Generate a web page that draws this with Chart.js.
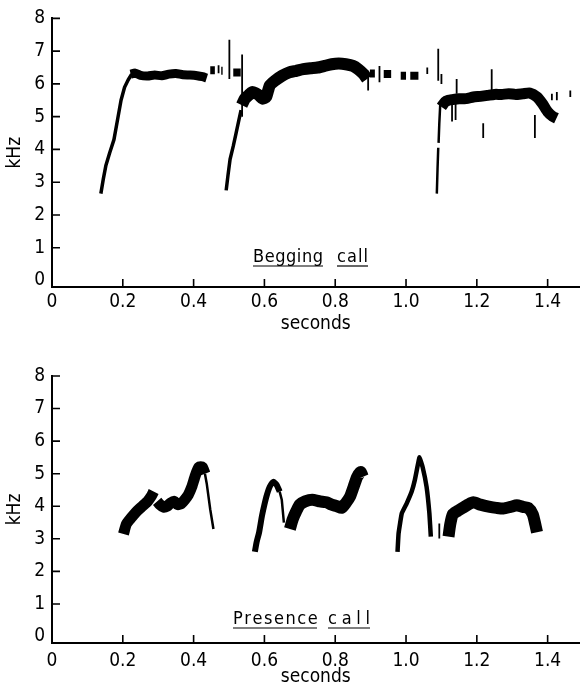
<!DOCTYPE html>
<html>
<head>
<meta charset="utf-8">
<script src="https://cdn.jsdelivr.net/npm/chart.js@4.4.1/dist/chart.umd.min.js"></script>
<style>
html, body { margin: 0; padding: 0; background: #fff; }
#wrap { position: relative; width: 581px; height: 684px; }
canvas { position: absolute; left: 0; }
</style>
</head>
<body>
<div id="wrap">
  <canvas id="begging" width="581" height="342" style="top:0"></canvas>
  <canvas id="presence" width="581" height="342" style="top:342px"></canvas>
</div>
<script>
// tick labels
const xTicks = [0, 0.2, 0.4, 0.6, 0.8, 1.0, 1.2, 1.4];
const yTicks = [0, 1, 2, 3, 4, 5, 6, 7, 8];

// begging call - traces as [seconds, kHz]
const begSweep1 = [[0.138,2.65],[0.145,3.1],[0.152,3.5],[0.163,3.9],[0.175,4.3],[0.185,4.9],[0.195,5.5],[0.205,5.9],[0.215,6.12],[0.225,6.3]];
const begPlateau1 = [[0.222,6.3],[0.235,6.33],[0.25,6.26],[0.27,6.24],[0.29,6.27],[0.31,6.25],[0.33,6.3],[0.35,6.32],[0.37,6.28],[0.39,6.27],[0.41,6.25],[0.425,6.22],[0.437,6.18]];
const begSweep2 = [[0.492,2.75],[0.497,3.2],[0.503,3.7],[0.512,4.1],[0.52,4.5],[0.528,4.9],[0.534,5.2]];
const begBand2 = [[0.536,5.35],[0.545,5.55],[0.555,5.65],[0.565,5.75],[0.575,5.72],[0.585,5.65],[0.595,5.55],[0.605,5.6],[0.615,5.95],[0.63,6.1],[0.65,6.25],[0.67,6.35],[0.69,6.4],[0.71,6.45],[0.73,6.48],[0.75,6.5],[0.77,6.55],[0.79,6.6],[0.81,6.62],[0.83,6.6],[0.85,6.55],[0.865,6.45],[0.88,6.3],[0.89,6.15]];
const begSweep3a = [[1.087,2.65],[1.089,3.4],[1.091,4.05]];
const begSweep3b = [[1.092,4.2],[1.094,4.8],[1.097,5.45]];
const begBand3 = [[1.1,5.3],[1.11,5.45],[1.12,5.5],[1.13,5.52],[1.15,5.55],[1.17,5.55],[1.19,5.6],[1.21,5.62],[1.23,5.65],[1.25,5.68],[1.27,5.68],[1.29,5.7],[1.31,5.68],[1.33,5.7],[1.35,5.72],[1.37,5.6],[1.385,5.4],[1.4,5.15],[1.415,5.0],[1.425,4.95]];
// thin vertical strokes [seconds, kHz from, kHz to]
const begStrokes = [[0.501,6.15,7.35],[0.537,5.0,6.9],[0.893,5.8,6.4],[0.925,6.05,6.55],[1.06,6.3,6.5],[1.091,6.1,7.07],[1.1,6.0,6.3],[1.13,4.85,5.4],[1.14,4.9,5.4],[1.143,5.7,6.15],[1.242,5.8,6.45],[1.218,4.35,4.8],[1.364,4.35,5.05],[1.412,5.5,5.7],[1.426,5.5,5.75],[1.464,5.6,5.8]];
// short blobs [seconds from, seconds to, kHz]
const begBlobs = [[0.447,0.46,6.42],[0.468,0.473,6.45],[0.478,0.482,6.4],[0.512,0.533,6.35],[0.898,0.912,6.32],[0.937,0.958,6.3],[0.985,1.0,6.25],[1.012,1.035,6.25]];

// presence call
const preSeg1 = [[0.202,3.15],[0.21,3.45],[0.22,3.6],[0.23,3.73],[0.24,3.85],[0.25,3.95],[0.26,4.05],[0.27,4.15],[0.28,4.3],[0.287,4.45]];
const preSeg2 = [[0.297,4.15],[0.305,4.05],[0.315,3.97],[0.325,4.0],[0.335,4.1],[0.345,4.15],[0.355,4.05],[0.365,4.08],[0.375,4.2],[0.385,4.35],[0.395,4.6],[0.405,4.95],[0.415,5.2],[0.425,5.2],[0.432,5.0]];
const preTail2 = [[0.432,5.0],[0.437,4.7],[0.447,3.9],[0.456,3.3]];
const preSeg3 = [[0.573,2.6],[0.578,2.9],[0.585,3.2],[0.593,3.7],[0.6,4.05],[0.607,4.35],[0.615,4.6],[0.625,4.75],[0.635,4.65],[0.643,4.45]];
const preTail3 = [[0.643,4.45],[0.649,4.2],[0.655,3.5]];
const preSeg4 = [[0.672,3.3],[0.68,3.6],[0.69,3.85],[0.7,4.05],[0.715,4.15],[0.735,4.2],[0.757,4.15],[0.775,4.12],[0.79,4.05],[0.805,4.0],[0.818,3.95],[0.83,4.1],[0.842,4.3],[0.852,4.6],[0.862,4.9],[0.872,5.05],[0.878,4.9]];
const preSeg5 = [[0.976,2.6],[0.979,3.17],[0.988,3.78],[1.002,4.09],[1.016,4.45],[1.025,4.81],[1.033,5.25],[1.038,5.5],[1.047,5.2],[1.058,4.6],[1.066,3.78],[1.07,3.07]];
const preSeg6 = [[1.12,3.07],[1.125,3.45],[1.132,3.75],[1.145,3.85],[1.16,3.95],[1.175,4.05],[1.19,4.12],[1.21,4.05],[1.237,3.98],[1.255,3.95],[1.275,3.93],[1.295,3.98],[1.313,4.03],[1.33,3.98],[1.345,3.95],[1.358,3.75],[1.365,3.45],[1.37,3.2]];
const preStrokes = [[1.094,3.01,3.47]];

const FONT = '"Liberation Sans Narrow", "DejaVu Sans Condensed", "DejaVu Sans", sans-serif';

function trace(pts, w, t) {
    return { data: pts.map(p => ({ x: p[0], y: p[1] })), borderWidth: w, borderColor: '#000', tension: t === undefined ? 0.2 : t };
}
function stroke(s) {
    return { data: [{ x: s[0], y: s[1] }, { x: s[0], y: s[2] }], borderWidth: 1.8, borderColor: '#000' };
}
function blob(b) {
    return { data: [{ x: b[0], y: b[2] }, { x: b[1], y: b[2] }], borderWidth: 8, borderColor: '#000' };
}

// spread the letters of a word so it fills a given width (typewriter look)
function spaced(ctx, text, x, y, width) {
    let natural = ctx.measureText(text).width;
    let extra = (width - natural) / (text.length - 1);
    let cx = x;
    for (const ch of text) {
        ctx.fillText(ch, cx, y);
        cx += ctx.measureText(ch).width + extra;
    }
}

// inward tick marks + underlined caption
const decor = {
    id: 'decor',
    afterDraw(chart) {
        const { ctx, chartArea: a, scales: { x, y } } = chart;
        const o = chart.options.plugins.decor;
        ctx.save();
        ctx.strokeStyle = '#000';
        ctx.lineWidth = 1.6;
        ctx.beginPath();
        y.ticks.forEach(t => {
            if (t.value === 0) return;
            const py = y.getPixelForValue(t.value);
            ctx.moveTo(a.left, py); ctx.lineTo(a.left + 8, py);
        });
        x.ticks.forEach(t => {
            if (t.value === 0) return;
            const px = x.getPixelForValue(t.value);
            ctx.moveTo(px, a.bottom); ctx.lineTo(px, a.bottom - 8);
        });
        ctx.stroke();

        ctx.fillStyle = '#000';
        ctx.font = '18px ' + FONT;
        ctx.textBaseline = 'alphabetic';
        ctx.lineWidth = 1.2;
        o.words.forEach(wd => {
            spaced(ctx, wd.text, wd.x, o.baseline, wd.w);
            ctx.beginPath();
            ctx.moveTo(wd.x, o.baseline + 4); ctx.lineTo(wd.x + wd.w, o.baseline + 4);
            ctx.stroke();
        });
        ctx.restore();
    }
};

function makeChart(id, datasets, cfg) {
    return new Chart(document.getElementById(id), {
        type: 'scatter',
        data: { datasets: datasets },
        plugins: [decor],
        options: {
            responsive: false,
            animation: false,
            devicePixelRatio: 1,
            layout: { padding: { top: cfg.top, right: 1.5, left: 0, bottom: 0 } },
            datasets: {
                scatter: { showLine: true, pointRadius: 0, borderJoinStyle: 'round', borderCapStyle: 'butt' }
            },
            plugins: {
                colors: { enabled: false },
                legend: { display: false },
                tooltip: { enabled: false },
                decor: { baseline: cfg.baseline, words: cfg.words }
            },
            scales: {
                x: {
                    type: 'linear', min: 0, max: 1.49,
                    afterFit: s => { s.height = cfg.xHeight; },
                    afterBuildTicks: s => { s.ticks = xTicks.map(v => ({ value: v })); },
                    grid: { display: false, drawTicks: false },
                    border: { display: true, color: '#000', width: 2 },
                    ticks: {
                        padding: cfg.xPad, color: '#000', font: { family: FONT, size: 19 },
                        maxRotation: 0,
                        callback: v => v === 0 ? '0' : v.toFixed(1)
                    },
                    title: {
                        display: true, text: 'seconds', color: '#000',
                        font: { family: FONT, size: 19, lineHeight: 1 },
                        padding: { top: 0, bottom: cfg.titlePad }
                    }
                },
                y: {
                    type: 'linear', min: -0.2, max: 8,
                    afterFit: s => { s.width = 52; },
                    afterBuildTicks: s => { s.ticks = yTicks.map(v => ({ value: v })); },
                    grid: { display: false, drawTicks: false },
                    border: { display: true, color: '#000', width: 2 },
                    ticks: { padding: 7, color: '#000', font: { family: FONT, size: 19 } },
                    title: {
                        display: true, text: 'kHz', color: '#000',
                        font: { family: FONT, size: 19, lineHeight: 1 },
                        padding: { top: 6, bottom: 0 }
                    }
                }
            }
        }
    });
}

makeChart('begging', [
    trace(begSweep1, 3.5, 0), trace(begPlateau1, 9), trace(begSweep2, 3.5, 0), trace(begBand2, 12),
    trace(begSweep3a, 2.5, 0), trace(begSweep3b, 2.5, 0), trace(begBand3, 11),
    ...begStrokes.map(stroke), ...begBlobs.map(blob)
], {
    top: 16, xHeight: 55, xPad: 4, titlePad: 8, baseline: 262,
    words: [{ text: 'Begging', x: 253, w: 70 }, { text: 'call', x: 337, w: 31 }]
});

makeChart('presence', [
    trace(preSeg1, 11), trace(preSeg2, 11), trace(preTail2, 2.5, 0), trace(preSeg3, 6), trace(preTail3, 2.5, 0),
    trace(preSeg4, 12), trace(preSeg5, 4.5, 0.1), trace(preSeg6, 12),
    ...preStrokes.map(stroke)
], {
    top: 34, xHeight: 41, xPad: 7, titlePad: -3, baseline: 282,
    words: [{ text: 'Presence', x: 233, w: 84 }, { text: 'call', x: 328, w: 42 }]
});
</script>
</body>
</html>
